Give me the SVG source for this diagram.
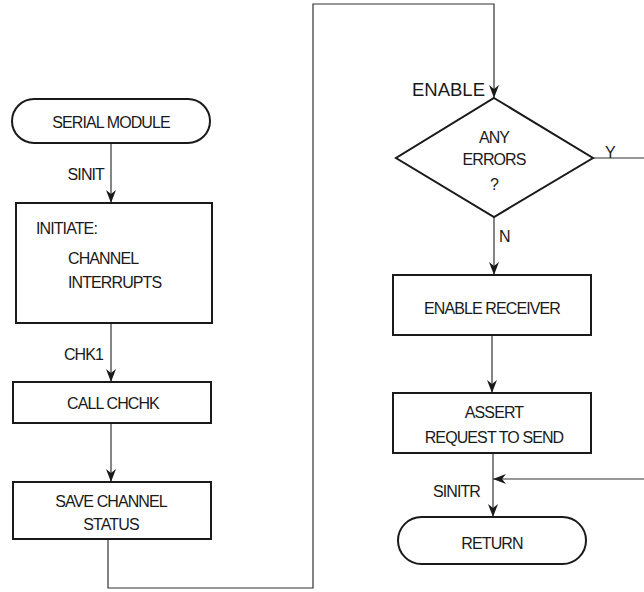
<svg xmlns="http://www.w3.org/2000/svg" width="644" height="592" viewBox="0 0 644 592">
<defs>
<marker id="arr" viewBox="-14 -6 15 12" refX="0" refY="0" markerWidth="15" markerHeight="12" markerUnits="userSpaceOnUse" orient="auto">
<path d="M0,0 L-13,-5 L-9,0 L-13,5 Z" fill="#1a1a1a"/>
</marker>
<style>
.shape{fill:#fff;stroke:#1a1a1a;stroke-width:2}
.line{fill:none;stroke:#333;stroke-width:1.2}
text{font-family:"Liberation Sans",Arial,sans-serif;font-size:16px;letter-spacing:-0.9px;fill:#1a1a1a}
.c{text-anchor:middle}
.e{text-anchor:end}
.big{font-size:18.5px;letter-spacing:0}
</style>
</defs>
<rect width="644" height="592" fill="#fff"/>
<g id="connectors">
<path class="line" d="M111,143 V203" marker-end="url(#arr)"/>
<path class="line" d="M111,323 V382" marker-end="url(#arr)"/>
<path class="line" d="M111,423 V482" marker-end="url(#arr)"/>
<path class="line" d="M108,539 V588 H313 V4 H494 V98" marker-end="url(#arr)"/>
<path class="line" d="M494,217 V275" marker-end="url(#arr)"/>
<path class="line" d="M492,335 V393" marker-end="url(#arr)"/>
<path class="line" d="M493,453 V517" marker-end="url(#arr)"/>
<path class="line" d="M593,158 H644"/>
<path class="line" d="M644,479 H493" marker-end="url(#arr)"/>
<text x="104" y="179.5" class="e">SINIT</text>
<text x="103" y="359.5" class="e">CHK1</text>
<text x="485" y="95.5" class="e big">ENABLE</text>
<text x="605" y="158">Y</text>
<text x="499" y="242">N</text>
<text x="480" y="496.5" class="e">SINITR</text>
</g>
<g id="serial-module">
<rect class="shape" x="12" y="99" width="198" height="44" rx="22"/>
<text x="111" y="127.5" class="c">SERIAL MODULE</text>
</g>
<g id="initiate">
<rect class="shape" x="16" y="203" width="196" height="120"/>
<text x="36" y="233.5">INITIATE:</text>
<text x="68" y="263.5">CHANNEL</text>
<text x="68" y="287.5">INTERRUPTS</text>
</g>
<g id="call-chchk">
<rect class="shape" x="13" y="382" width="198" height="41"/>
<text x="113" y="408.5" class="c">CALL CHCHK</text>
</g>
<g id="save-status">
<rect class="shape" x="13" y="482" width="198" height="57"/>
<text x="111" y="506.5" class="c">SAVE CHANNEL</text>
<text x="111" y="529.5" class="c">STATUS</text>
</g>
<g id="any-errors">
<polygon class="shape" points="494,98 593,158 494,217 396,158"/>
<text x="494" y="142.5" class="c">ANY</text>
<text x="494" y="164.5" class="c">ERRORS</text>
<text x="494" y="189.5" class="c">?</text>
</g>
<g id="enable-receiver">
<rect class="shape" x="393" y="275" width="198" height="60"/>
<text x="492" y="313.5" class="c">ENABLE RECEIVER</text>
</g>
<g id="assert-rts">
<rect class="shape" x="393" y="393" width="198" height="60"/>
<text x="494" y="417.5" class="c">ASSERT</text>
<text x="494" y="442.5" class="c">REQUEST TO SEND</text>
</g>
<g id="return">
<rect class="shape" x="398" y="517" width="188" height="47" rx="23.5"/>
<text x="492" y="548.5" class="c">RETURN</text>
</g>
</svg>
